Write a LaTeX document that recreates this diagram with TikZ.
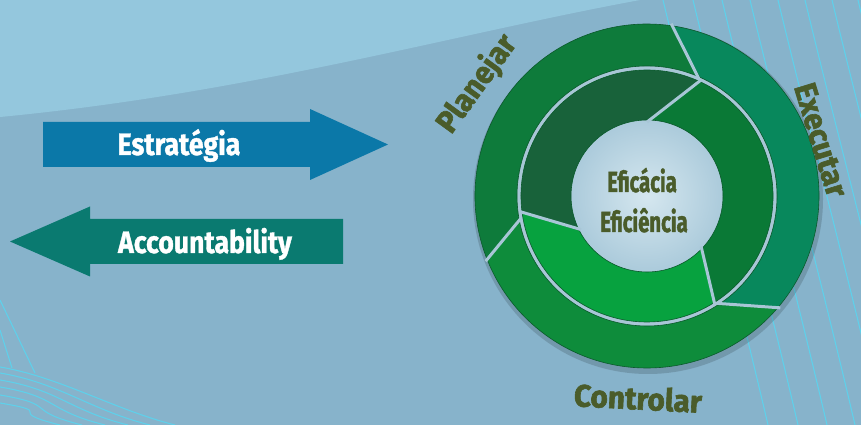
\documentclass[tikz,border=0pt]{standalone}
\usepackage{fontspec}
\newfontfamily\arrowfont{Fira Sans}[FakeStretch=0.86, BoldFeatures={FakeBold=1.2}]
\newfontfamily\centerfont{Fira Sans}[FakeStretch=0.7, BoldFeatures={FakeBold=1.5}]
\newfontfamily\labelfont{Fira Sans}[FakeStretch=0.96, BoldFeatures={FakeBold=2}]
\definecolor{bgmain}{HTML}{87B3CB}
\definecolor{bgtop}{HTML}{94C7DD}
\definecolor{linecol}{HTML}{5FD0EA}
\definecolor{estrcol}{HTML}{0B78A8}
\definecolor{acccol}{HTML}{0A7A70}
\definecolor{planejarcol}{HTML}{0E7B3B}
\definecolor{executarcol}{HTML}{08885C}
\definecolor{controlarcol}{HTML}{0E8C3B}
\definecolor{innertop}{HTML}{18623A}
\definecolor{innerright}{HTML}{0A7936}
\definecolor{innerbottom}{HTML}{07A23F}
\definecolor{ringedge}{HTML}{0B5A2C}
\definecolor{gapcol}{HTML}{A8C6D6}
\definecolor{centerin}{HTML}{D5E7EF}
\definecolor{centerout}{HTML}{A9C9DA}
\definecolor{labelcol}{HTML}{4A5C2A}
\tikzset{
  arrowtext/.style={text=white, font=\arrowfont\bfseries\fontsize{31}{31}\selectfont, inner sep=0pt, anchor=base},
  centertext/.style={text=labelcol, font=\centerfont\bfseries\fontsize{29}{29}\selectfont, inner sep=0pt, anchor=base},
  cyclelabel/.style={text=labelcol, font=\labelfont\bfseries\fontsize{31}{31}\selectfont, inner sep=0pt},
  gapline/.style={draw=gapcol, line width=3pt},
  fineline/.style={draw=linecol, line width=1.1pt},
  segment/.style={draw=ringedge, line width=0.6pt},
}
\begin{document}
\begin{tikzpicture}[x=1pt, y=1pt]
        \useasboundingbox (0,0) rectangle (861,425);
        % background
        \begin{scope}
            \clip (0,0) rectangle (861,425);
            \fill[bgmain] (0,0) rectangle (861,425);
            \fill[bgtop] (0,425) -- (0,308) .. controls (250,332) and (450,390) .. (640,425) -- cycle;
            % thin lines on the right
            \foreach \x in {663,693,722,750,778,805,832,858}
                \draw[fineline] (\x,425) .. controls ({\x+30},300) and ({\x+70},150) .. ({\x+105},0);
            % thin lines at the bottom left
            \foreach \s/\e in {58/175,52/150,45/128,38/105,30/82,22/60}
                \draw[fineline] (0,\s) .. controls (60,{\s-10}) and ({\e-60},15) .. (\e,0);
            \draw[fineline] (0,125) -- (35,52);
            \draw[fineline] (0,95) -- (12,57);
        \end{scope}
        % strategy arrow, pointing right
        \fill[estrcol] (43,303) -- (310,303) -- (310,316) -- (388,280.5) -- (310,245) -- (310,258) -- (43,258) -- cycle;
        \node[arrowtext] (estrategia) at (179,270) {Estratégia};
        % accountability arrow, pointing left
        \fill[acccol] (343,206) -- (90,206) -- (90,218.5) -- (10,183.5) -- (90,148.5) -- (90,161) -- (343,161) -- cycle;
        \node[arrowtext] (accountability) at (205,172) {Accountability};
        % the cycle
        \begin{scope}[shift={(647,229)}]
            \fill[black, opacity=0.15] (1,-3) circle[radius=175];
            \fill[gapcol] (0,0) circle[radius=131];
            \shade[inner color=centerin, outer color=centerout] (0,0) circle[radius=80];
            % outer ring
            \fill[planejarcol, segment] (202:172) arc[start angle=202, end angle=82, radius=172] -- (66:130) arc[start angle=66, end angle=190, radius=130] -- cycle;
            \fill[executarcol, segment] (82:172) arc[start angle=82, end angle=-40, radius=172] -- (-57:130) arc[start angle=-57, end angle=66, radius=130] -- cycle;
            \fill[controlarcol, segment] (-40:172) arc[start angle=-40, end angle=-158, radius=172] -- (-170:130) arc[start angle=-170, end angle=-57, radius=130] -- cycle;
            % inner ring
            \fill[innertop, segment] (187:126) arc[start angle=187, end angle=65, radius=126] -- (90:76) arc[start angle=90, end angle=207, radius=76] -- cycle;
            \fill[innerright, segment] (65:126) arc[start angle=65, end angle=-58, radius=126] -- (-43:76) arc[start angle=-43, end angle=90, radius=76] -- cycle;
            \fill[innerbottom, segment] (-58:126) arc[start angle=-58, end angle=-173, radius=126] -- (-153:76) arc[start angle=-153, end angle=-43, radius=76] -- cycle;
            % gaps between the pieces
            \draw[gapline] (82:174) -- (66:128);
            \draw[gapline] (-40:174) -- (-57:128);
            \draw[gapline] (202:174) -- (190:128);
            \draw[gapline] (65:128) -- (90:74);
            \draw[gapline] (-58:128) -- (-43:74);
            \draw[gapline] (187:128) -- (207:74);
        \end{scope}
        % centre text
        \node[centertext] (eficacia) at (642,233) {Eficácia};
        \node[centertext] (eficiencia) at (644,193) {Eficiência};
        % labels round the cycle
        \node[cyclelabel, rotate=54] (planejar) at (477,341) {Planejar};
        \node[cyclelabel, rotate=-73] (executar) at (821,285) {Executar};
        \node[cyclelabel, rotate=-3] (controlar) at (638,27) {Controlar};
    \end{tikzpicture}
\end{document}
